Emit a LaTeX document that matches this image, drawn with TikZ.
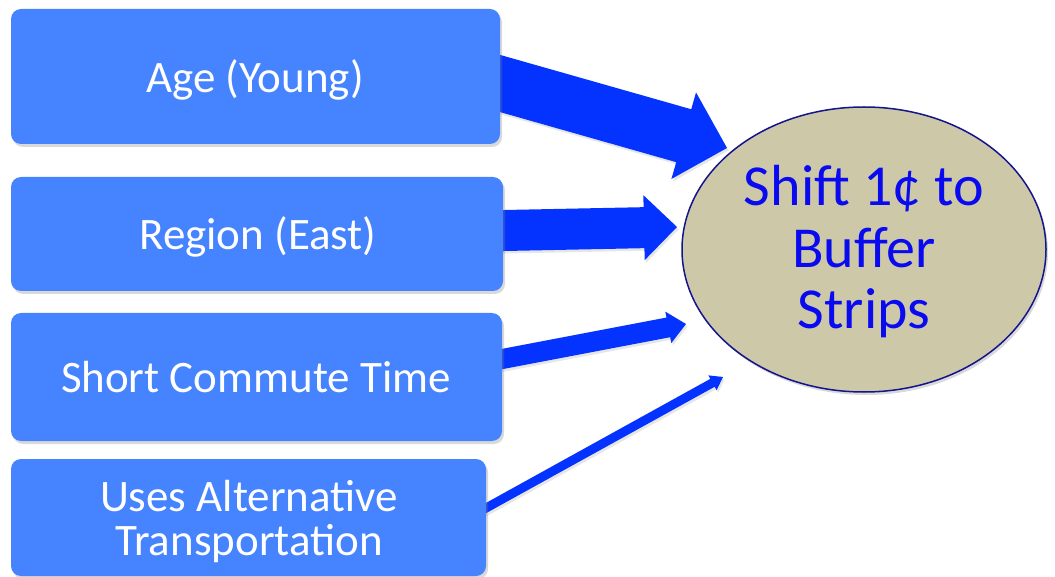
\documentclass[tikz,border=0pt]{standalone}
\usepackage{fontspec}
\setmainfont{Carlito}
\usetikzlibrary{calc,shadows,backgrounds,shapes.geometric}
\definecolor{boxblue}{RGB}{70,131,255}
\definecolor{arrowblue}{RGB}{4,51,255}
\definecolor{goalfill}{RGB}{205,200,168}
\definecolor{goalline}{RGB}{20,20,140}
\definecolor{goaltext}{RGB}{10,10,240}
\tikzset{
  factor/.style={fill=boxblue, draw=none, rounded corners=10pt, inner sep=0pt,
    drop shadow={shadow xshift=2pt, shadow yshift=-3pt, opacity=0.3}},
  factortext/.style={text=white, font=\fontsize{45}{45}\selectfont, anchor=base, inner sep=0pt},
  goal/.style={ellipse, fill=goalfill, draw=goalline, line width=1.5pt, inner sep=0pt,
    drop shadow={shadow xshift=2pt, shadow yshift=-3pt, opacity=0.3}},
  goaltxt/.style={text=goaltext, font=\fontsize{58}{60}\selectfont, anchor=base, inner sep=0pt},
  arrowfill/.style={fill=arrowblue, drop shadow={shadow xshift=1.5pt, shadow yshift=-2.5pt, opacity=0.2}},
}
% #1 start, #2 tip, #3 half shaft width, #4 half head width, #5 head length
\newcommand\blockarrow[5]{%
  \coordinate (#2-h) at ($(#2)!#5!(#1)$);
  \fill[arrowfill] ($(#1)!#3!90:(#2)$) -- ($(#2-h)!#3!-90:(#1)$) -- ($(#2-h)!#4!-90:(#1)$)
    -- (#2) -- ($(#2-h)!#4!90:(#1)$) -- ($(#2-h)!#3!90:(#1)$) -- ($(#1)!#3!-90:(#2)$) -- cycle;
}
\begin{document}
\begin{tikzpicture}[x=1pt,y=-1pt]
\useasboundingbox (0,0) rectangle (1055,577);

% factor boxes
\node[factor, minimum width=489pt, minimum height=135pt] (b1) at (255.5,76.5) {};
\node[factor, minimum width=492pt, minimum height=114pt] (b2) at (257,234) {};
\node[factor, minimum width=491pt, minimum height=128pt] (b3) at (256.5,377) {};
\node[factor, minimum width=475pt, minimum height=117pt] (b4) at (248.5,517.5) {};

\node[factortext] (t1) at (255,93) {Age (Young)};
\node[factortext] (t2) at (258,250) {Region (East)};
\node[factortext] (t3) at (256,392) {Short Commute Time};
\node[factortext] (t4a) at (249,511) {Uses Alternative};
\node[factortext] (t4b) at (249,555) {Transportation};

% goal ellipse
\node[goal, minimum width=364pt, minimum height=285pt] (goal) at (864,249.5) {};
\node[goaltxt] (g1) at (864,206) {Shift 1¢ to};
\node[goaltxt] (g2) at (864,268) {Buffer};
\node[goaltxt] (g3) at (864,329) {Strips};

% arrow ends
\coordinate (s1) at ($(b1.east)+(-24,0.2)$);
\coordinate (e1) at (727,148);
\coordinate (s2) at ($(b2.east)+(-23,-3)$);
\coordinate (e2) at (677,227);
\coordinate (s3) at ($(b3.east)+(-22,-13.8)$);
\coordinate (e3) at (686,324);
\coordinate (s4) at ($(b4.east)+(-16,-0.7)$);
\coordinate (e4) at (723,377);

\begin{scope}[on background layer]
  \blockarrow{s1}{e1}{27.5pt}{45pt}{45pt}
  \blockarrow{s2}{e2}{20.5pt}{32.5pt}{33pt}
  \blockarrow{s3}{e3}{10pt}{16pt}{18pt}
  \blockarrow{s4}{e4}{4.5pt}{8.5pt}{12pt}
\end{scope}
\end{tikzpicture}
\end{document}
